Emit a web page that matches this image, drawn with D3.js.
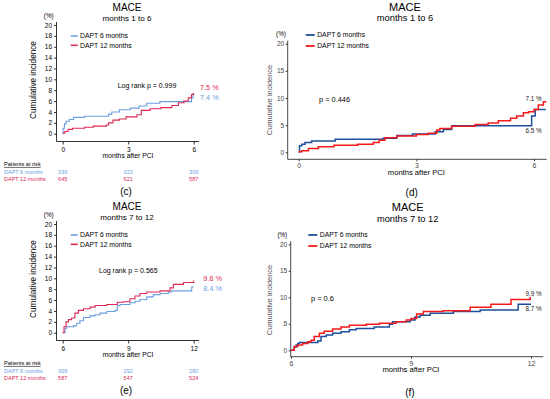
<!DOCTYPE html>
<html lang="en">
<head>
<meta charset="UTF-8"/>
<title>MACE cumulative incidence</title>
<script src="https://d3js.org/d3.v7.min.js"></script>
<style>
  body { margin: 0; background: #fff; }
  text { font-family: Arial, "Liberation Sans", sans-serif; }
</style>
</head>
<body>
<div id="chart"></div>
<script>
// series names
var groups = ["DAPT 6 months", "DAPT 12 months"];

// panel (c): months 1 to 6
var cT6  = [0, 0.02, 0.08, 0.15, 0.3, 0.5, 1.0, 2.1, 2.25, 2.6, 3.1, 3.5, 3.85, 4.45, 5.9, 5.97, 6.0];
var cV6  = [0, 1.0, 1.8, 2.3, 2.6, 3.0, 3.2, 3.6, 4.0, 4.4, 4.7, 5.1, 5.6, 5.9, 6.6, 7.4, 7.4];
var cT12 = [0, 0.1, 0.25, 0.45, 1.0, 1.4, 2.0, 2.1, 2.3, 2.6, 2.9, 3.4, 3.6, 4.0, 4.5, 5.0, 5.3, 5.55, 5.75, 5.9, 6.0];
var cV12 = [0.1, 0.4, 0.8, 1.0, 1.2, 1.4, 1.6, 2.0, 2.5, 2.7, 3.1, 3.5, 4.3, 4.6, 4.8, 5.2, 5.7, 6.0, 6.6, 7.2, 7.5];

// panel (d): months 1 to 6
var dT6  = [0, 0.02, 0.08, 0.16, 0.33, 0.93, 2.15, 2.5, 2.9, 3.48, 3.69, 3.9, 5.94, 6.03, 6.3];
var dV6  = [0, 1.2, 1.5, 1.8, 2.1, 2.4, 2.6, 3.1, 3.35, 3.8, 4.2, 4.9, 6.7, 7.9, 7.9];
var dT12 = [0, 0.08, 0.25, 0.5, 0.9, 1.5, 1.9, 2.05, 2.2, 2.5, 3.0, 3.3, 3.52, 3.6, 3.9, 4.5, 4.83, 5.09, 5.4, 5.56, 5.73, 5.86, 6.0, 6.11, 6.24, 6.3];
var dV12 = [0.1, 0.3, 0.7, 1.0, 1.3, 1.5, 1.8, 2.2, 2.7, 3.0, 3.3, 3.5, 4.1, 4.4, 4.8, 5.1, 5.4, 5.8, 6.25, 6.7, 7.3, 7.45, 7.9, 8.7, 9.3, 9.4];

// panel (e): months 7 to 12
var eT6  = [6, 6.11, 6.18, 6.49, 6.64, 6.79, 6.95, 7.25, 7.48, 7.71, 8.02, 8.4, 8.5, 8.63, 9.08, 9.31, 9.54, 9.85, 10.15, 10.46, 10.84, 11.0, 11.91, 12.0];
var eV6  = [0, 0.8, 1.1, 1.25, 1.75, 2.2, 2.8, 3.1, 3.3, 3.6, 3.9, 4.1, 5.0, 5.2, 5.5, 5.8, 6.1, 6.6, 7.0, 7.2, 7.5, 7.7, 8.4, 8.4];
var eT12 = [6, 6.06, 6.15, 6.26, 6.41, 6.56, 6.72, 6.95, 7.25, 7.48, 8.02, 8.5, 8.78, 9.08, 9.31, 9.54, 9.85, 10.46, 10.92, 11.07, 11.53, 11.95, 12.0];
var eV12 = [0, 1.1, 2.0, 2.4, 2.7, 3.6, 4.1, 4.4, 4.7, 5.0, 5.2, 5.6, 5.7, 6.25, 6.75, 7.2, 7.5, 7.7, 8.25, 8.9, 9.25, 9.25, 9.6];

// panel (f): months 7 to 12
var fT6  = [6, 6.08, 6.13, 6.17, 6.21, 6.67, 6.75, 6.88, 7.04, 7.25, 7.46, 7.63, 8.08, 8.46, 8.54, 8.98, 9.1, 9.23, 9.48, 10.06, 10.73, 11.68, 12.0];
var fV6  = [0, 0.6, 1.0, 1.3, 1.45, 1.75, 2.6, 2.9, 3.2, 3.5, 3.9, 4.1, 4.4, 4.9, 5.4, 5.7, 6.3, 6.6, 7.0, 7.3, 7.6, 8.7, 8.7];
var fT12 = [6, 6.08, 6.17, 6.29, 6.42, 6.5, 6.58, 6.71, 6.83, 7.04, 7.25, 7.46, 7.88, 8.21, 8.63, 8.88, 9.0, 9.14, 9.31, 9.81, 10.48, 11.0, 11.5, 11.98, 12.0];
var fV12 = [0, 0.7, 1.0, 1.3, 1.6, 1.9, 2.6, 3.2, 3.6, 4.0, 4.4, 4.75, 4.9, 5.1, 5.4, 5.7, 6.0, 6.85, 7.3, 7.45, 8.1, 8.7, 9.6, 9.9, 9.9];

// patients at risk
var riskC6 = [339, 322, 309], riskC12 = [645, 621, 587];
var riskE6 = [309, 292, 280], riskE12 = [587, 547, 524];

// ticks
var yTicksA = [0, 2, 4, 6, 8, 10, 12, 14, 16, 18, 20];
var yTicksB = [0, 5, 10, 15, 20];
var xTicks1 = [0, 3, 6];
var xTicks2 = [6, 9, 12];

var colA = ["#6a9fe3", "#dc2a57"];   // light blue / crimson
var colB = ["#1c4f9c", "#f41a1a"];   // navy / red

var w = 550, h = 399;
var fmt = d3.format("d");
var svg = d3.select("#chart").append("svg")
  .attr("width", w).attr("height", h)
  .style("background", "#fff");

function zip(t, v) {
  return t.map(function(d, i) { return {t: d, v: v[i]}; });
}

// left style panels (c), (e)
function panelA(o) {
  var dy = o.dy;
  var x = d3.scaleLinear().domain(o.xdom).range([62.7, 193.7]);
  var y = d3.scaleLinear().domain([0, 20]).range([133.7 + dy, 25 + dy]);
  var axY = 141.5 + dy, axX = 56.5;
  var g = svg.append("g");

  g.append("text").attr("x", 127).attr("y", 7 + dy).attr("dy", "0.35em")
    .attr("text-anchor", "middle").attr("font-size", "10px").text("MACE");
  g.append("text").attr("x", 127).attr("y", 18.5 + dy).attr("dy", "0.35em")
    .attr("text-anchor", "middle").attr("font-size", "8.1px").text(o.sub);

  // axis lines
  g.append("line").attr("x1", axX).attr("x2", axX).attr("y1", y(20) - 3).attr("y2", axY)
    .attr("stroke", "#000").attr("stroke-width", 0.8);
  g.append("line").attr("x1", axX).attr("x2", 199).attr("y1", axY).attr("y2", axY)
    .attr("stroke", "#000").attr("stroke-width", 0.8);

  var ya = g.append("g").attr("transform", "translate(" + axX + ",0)")
    .call(d3.axisLeft(y).tickValues(yTicksA).tickFormat(fmt).tickSize(2.5).tickPadding(2));
  ya.select(".domain").remove();
  ya.selectAll("text").attr("font-size", "6.5px").attr("font-family", "Arial, 'Liberation Sans', sans-serif");
  ya.selectAll("line").attr("stroke-width", 0.8);

  var xa = g.append("g").attr("transform", "translate(0," + axY + ")")
    .call(d3.axisBottom(x).tickValues(o.xticks).tickFormat(fmt).tickSize(3).tickPadding(3));
  xa.select(".domain").remove();
  xa.selectAll("text").attr("font-size", "6.5px").attr("font-family", "Arial, 'Liberation Sans', sans-serif");
  xa.selectAll("line").attr("stroke-width", 0.8);

  g.append("text").attr("x", 128).attr("y", 156 + dy).attr("dy", "0.35em")
    .attr("text-anchor", "middle").attr("font-size", "6.8px").text("months after PCI");
  g.append("text").attr("transform", "translate(33," + (80 + dy) + ") rotate(-90)")
    .attr("dy", "0.35em").attr("text-anchor", "middle").attr("font-size", "8.2px")
    .text("Cumulative incidence");
  g.append("text").attr("x", 48.7).attr("y", 15.7 + dy).attr("dy", "0.35em")
    .attr("text-anchor", "middle").attr("font-size", "6.3px").text("(%)");

  // legend
  groups.forEach(function(name, i) {
    var ly = [36, 45.3][i] + dy;
    g.append("line").attr("x1", 70.7).attr("x2", 77.7).attr("y1", ly).attr("y2", ly)
      .attr("stroke", colA[i]).attr("stroke-width", 1.6);
    g.append("text").attr("x", 80).attr("y", ly).attr("dy", "0.35em")
      .attr("font-size", "6.8px").text(name);
  });

  var line = d3.line().curve(d3.curveStepAfter)
    .x(function(d) { return x(d.t); }).y(function(d) { return y(d.v); });
  [o.s6, o.s12].forEach(function(s, i) {
    g.append("path").datum(s).attr("d", line).attr("fill", "none")
      .attr("stroke", colA[i]).attr("stroke-width", 1.1);
  });

  g.append("text").attr("x", o.px).attr("y", o.py + dy).attr("dy", "0.35em")
    .attr("text-anchor", "middle").attr("font-size", "7px").text(o.ptext);
  o.ends.forEach(function(e, i) {
    g.append("text").attr("x", e.x).attr("y", e.y + dy).attr("dy", "0.35em")
      .attr("font-size", "7.3px").attr("fill", colA[1 - i]).text(e.label);
  });

  // patients at risk
  g.append("text").attr("x", 4).attr("y", 164 + dy).attr("dy", "0.35em")
    .attr("font-size", "5.6px").attr("text-decoration", "underline").text("Patients at risk");
  [o.r6, o.r12].forEach(function(r, i) {
    var ry = [171.8, 179][i] + dy;
    g.append("text").attr("x", 4).attr("y", ry).attr("dy", "0.35em")
      .attr("font-size", "5.5px").attr("fill", colA[i]).text(groups[i]);
    g.selectAll(null).data(r).enter().append("text")
      .attr("x", function(d, k) { return x(o.xticks[k]); })
      .attr("y", ry).attr("dy", "0.35em").attr("text-anchor", "middle")
      .attr("font-size", "5.5px").attr("fill", colA[i]).text(function(d) { return d; });
  });

  g.append("text").attr("x", 126).attr("y", 191.5 + dy).attr("dy", "0.35em")
    .attr("text-anchor", "middle").attr("font-size", "10px")
    .attr("font-family", "'Liberation Serif', 'DejaVu Serif', serif").text(o.letter);
}

// right style panels (d), (f)
function panelB(o) {
  var dy = o.dy;
  var x = d3.scaleLinear().domain(o.xdom).range(o.xr);
  var y = d3.scaleLinear().domain([0, 20]).range(o.yr);
  var g = svg.append("g");

  g.append("text").attr("x", o.tx).attr("y", o.ty).attr("dy", "0.35em")
    .attr("text-anchor", "middle").attr("font-size", "11px").text("MACE");
  g.append("text").attr("x", o.tx).attr("y", o.ty + 11.5).attr("dy", "0.35em")
    .attr("text-anchor", "middle").attr("font-size", "9.3px").text(o.sub);

  g.append("line").attr("x1", o.axX).attr("x2", o.axX).attr("y1", y(20) - 3).attr("y2", o.axY)
    .attr("stroke", "#333").attr("stroke-width", 0.9);
  g.append("line").attr("x1", o.axX).attr("x2", o.axR).attr("y1", o.axY).attr("y2", o.axY)
    .attr("stroke", "#333").attr("stroke-width", 0.9);

  var ya = g.append("g").attr("transform", "translate(" + o.axX + ",0)")
    .call(d3.axisLeft(y).tickValues(yTicksB).tickFormat(fmt).tickSize(2).tickPadding(1.5));
  ya.select(".domain").remove();
  ya.selectAll("text").attr("font-size", "6.5px").attr("fill", "#444")
    .attr("font-family", "Arial, 'Liberation Sans', sans-serif");
  ya.selectAll("line").attr("stroke", "#333");

  var xa = g.append("g").attr("transform", "translate(0," + o.axY + ")")
    .call(d3.axisBottom(x).tickValues(o.xticks).tickFormat(fmt).tickSize(2).tickPadding(2));
  xa.select(".domain").remove();
  xa.selectAll("text").attr("font-size", "6.8px").attr("fill", "#444")
    .attr("font-family", "Arial, 'Liberation Sans', sans-serif");
  xa.selectAll("line").attr("stroke", "#333");

  g.append("text").attr("x", (o.xr[0] + o.xr[1]) / 2).attr("y", o.axY + 13).attr("dy", "0.35em")
    .attr("text-anchor", "middle").attr("font-size", "7.6px").text("months after PCI");
  g.append("text").attr("transform", "translate(269.5," + (100 + dy) + ") rotate(-90)")
    .attr("dy", "0.35em").attr("text-anchor", "middle").attr("font-size", "7.4px")
    .attr("fill", "#555").text("Cumulative incidence");
  g.append("text").attr("x", o.pcx).attr("y", y(20) - 10).attr("dy", "0.35em")
    .attr("text-anchor", "middle").attr("font-size", "6.3px").text("(%)");

  groups.forEach(function(name, i) {
    var ly = [35, 46][i] + dy;
    g.append("line").attr("x1", o.lx).attr("x2", o.lx + 9).attr("y1", ly).attr("y2", ly)
      .attr("stroke", colB[i]).attr("stroke-width", 1.8);
    g.append("text").attr("x", o.lx + 11.5).attr("y", ly).attr("dy", "0.35em")
      .attr("font-size", "6.8px").text(name);
  });

  var line = d3.line().curve(d3.curveStepAfter)
    .x(function(d) { return x(d.t); }).y(function(d) { return y(d.v); });
  [o.s6, o.s12].forEach(function(s, i) {
    g.append("path").datum(s).attr("d", line).attr("fill", "none")
      .attr("stroke", colB[i]).attr("stroke-width", 1.5);
  });

  g.append("text").attr("x", o.px).attr("y", y(10) + 1).attr("dy", "0.35em")
    .attr("font-size", "7.4px").text(o.ptext);
  o.ends.forEach(function(e) {
    g.append("text").attr("x", 541.5).attr("y", e.y).attr("dy", "0.35em")
      .attr("text-anchor", "end").attr("font-size", "6.3px").attr("fill", "#222").text(e.label);
  });

  g.append("text").attr("x", o.lettx).attr("y", 192 + dy).attr("dy", "0.35em")
    .attr("text-anchor", "middle").attr("font-size", "10px")
    .attr("font-family", "'Liberation Serif', 'DejaVu Serif', serif").text(o.letter);
}

panelA({
  dy: 0, xdom: [0, 6], xticks: xTicks1, sub: "months 1 to 6",
  s6: zip(cT6, cV6), s12: zip(cT12, cV12),
  ptext: "Log rank p = 0.999", px: 147, py: 85.7,
  ends: [{label: "7.5 %", x: 200, y: 87.7}, {label: "7.4 %", x: 200, y: 97.7}],
  r6: riskC6, r12: riskC12, letter: "(c)"
});

panelA({
  dy: 199, xdom: [6, 12], xticks: xTicks2, sub: "months 7 to 12",
  s6: zip(eT6, eV6), s12: zip(eT12, eV12),
  ptext: "Log rank p = 0.565", px: 128.3, py: 72,
  ends: [{label: "9.6 %", x: 203.3, y: 79.7}, {label: "8.4 %", x: 203.3, y: 89.7}],
  r6: riskE6, r12: riskE12, letter: "(e)"
});

panelB({
  dy: 0, xdom: [0, 6], xr: [298.7, 534], yr: [152.3, 43.7], xticks: xTicks1,
  axX: 287.7, axY: 159.3, axR: 546.7, tx: 405, ty: 6.7, sub: "months 1 to 6",
  pcx: 281, lx: 305.7, lettx: 411.7,
  s6: zip(dT6, dV6), s12: zip(dT12, dV12),
  ptext: "p = 0.446", px: 319,
  ends: [{label: "7.1 %", y: 98.7}, {label: "6.5 %", y: 130.3}], letter: "(d)"
});

panelB({
  dy: 200, xdom: [6, 12], xr: [291, 531], yr: [350.3, 244.3], xticks: xTicks2,
  axX: 290.7, axY: 356.7, axR: 543.3, tx: 407.7, ty: 207.3, sub: "months 7 to 12",
  pcx: 282.3, lx: 308.3, lettx: 410,
  s6: zip(fT6, fV6), s12: zip(fT12, fV12),
  ptext: "p = 0.6", px: 311,
  ends: [{label: "9.9 %", y: 293.7}, {label: "8.7 %", y: 309}], letter: "(f)"
});
</script>
</body>
</html>
